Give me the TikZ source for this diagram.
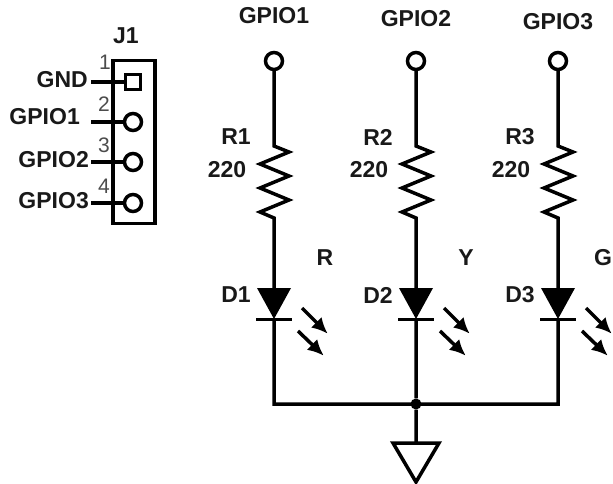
\documentclass[tikz,border=0pt]{standalone}
\usepackage{fontspec}
\setmainfont{Liberation Sans}
\usetikzlibrary{positioning,arrows.meta}
\tikzset{pad node/.style={circle,draw,line width=3.5pt,fill=white,minimum size=17pt,inner sep=0pt},
	square node/.style={rectangle,draw,line width=3.5pt,fill=white,minimum size=15pt,inner sep=0pt},
	name node/.style={inner sep=0pt,text=black!90,font=\fontsize{23}{23}\selectfont\bfseries},
	num node/.style={inner sep=0pt,text=black!70,font=\fontsize{21}{21}\selectfont},
	wire/.style={line width=3.5pt,line join=miter},
	ray/.style={line width=3.5pt,-{Latex[length=16pt,width=15pt]},shorten >=-1pt},
	resistor/.style={to path={-- ++(15,-6) -- ++(-29,-12) -- ++(29,-12) -- ++(-29,-12) -- ++(29,-12) -- ++(-29,-12) -- ++(14,-6) -- (\tikztotarget)}},
	diode/.style={to path={(\tikztostart) ++(-17,0) -- ++(34,0) -- (\tikztotarget) -- cycle}},
}

\begin{document}
\begin{tikzpicture}[x=1pt,y=1pt,on grid]
	\useasboundingbox (0,0) rectangle (613,-484);
	% connector
	\node[draw,line width=3.5pt,minimum width=42pt,minimum height=163pt,inner sep=0pt] (J) at (134,-142) {};
	\coordinate (L1) at (91,-82);
	\coordinate (L2) at (91,-122);
	\coordinate (L3) at (91,-162);
	\coordinate (L4) at (91,-203);
	\path[draw,wire]
	(L1) -- (133,-82)
	(L2) -- (133,-122)
	(L3) -- (133,-162)
	(L4) -- (133,-203);
	\node[square node] (P1) at (133,-82) {};
	\node[pad node] (P2) [below =40pt of P1] {};
	\node[pad node] (P3) [below =40pt of P2] {};
	\node[pad node] (P4) [below =41pt of P3] {};
	\node[name node] (J1) at (126,-36) {J1};
	\node[name node,anchor=east] (N1) [left =3pt of L1,yshift=2pt] {GND};
	\node[name node,anchor=east] (N2) [left =11pt of L2,yshift=5pt] {GPIO1};
	\node[name node,anchor=east] (N3) [left =2pt of L3,yshift=2pt] {GPIO2};
	\node[name node,anchor=east] (N4) [left =2pt of L4,yshift=2pt] {GPIO3};
	\node[num node] (T1) at (105,-62) {1};
	\node[num node] (T2) at (104,-104) {2};
	\node[num node] (T3) at (104,-145) {3};
	\node[num node] (T4) at (104,-186) {4};
	
	% top pads
	\node[pad node] (A1) at (274,-61) {};
	\node[pad node] (A2) [right =142pt of A1] {};
	\node[pad node] (A3) [right =142pt of A2] {};
	\node[name node] (G1) [above =45pt of A1] {GPIO1};
	\node[name node] (G2) [above =42pt of A2] {GPIO2};
	\node[name node] (G3) [above =39pt of A3] {GPIO3};
	
	% resistors and leds
	\coordinate (R1a) at (274,-146);
	\coordinate (R2a) at (416,-146);
	\coordinate (R3a) at (558,-146);
	\coordinate[below =72pt of R1a] (R1b);
	\coordinate[below =72pt of R2a] (R2b);
	\coordinate[below =72pt of R3a] (R3b);
	\coordinate[below =142pt of R1a] (D1a);
	\coordinate[below =142pt of R2a] (D2a);
	\coordinate[below =142pt of R3a] (D3a);
	\coordinate[below =31pt of D1a] (D1b);
	\coordinate[below =31pt of D2a] (D2b);
	\coordinate[below =31pt of D3a] (D3b);
	\coordinate (B1) at (274,-404);
	\node[circle,fill,minimum size=11pt,inner sep=0pt] (B2) at (416,-404) {};
	\coordinate (B3) at (558,-404);
	\coordinate[below =39pt of B2] (E);
	
	\path[draw,wire]
	(A1) -- (R1a) to[resistor] (R1b) -- (D1a)
	(A2) -- (R2a) to[resistor] (R2b) -- (D2a)
	(A3) -- (R3a) to[resistor] (R3b) -- (D3a)
	(D1b) -- (B1) -- (B3) -- (D3b)
	(D2b) -- (B2) -- (E);
	\fill (D1a) to[diode] (D1b);
	\fill (D2a) to[diode] (D2b);
	\fill (D3a) to[diode] (D3b);
	\path[draw,line width=3pt] (D1b) ++(-18,0) -- ++(36,0) (D2b) ++(-18,0) -- ++(36,0) (D3b) ++(-18,0) -- ++(36,0);
	\path[draw,wire,miter limit=4] (E) ++(-23,0) -- ++(46,0) -- ++(-23,-39) -- cycle;
	
	\draw[ray] ([shift={(28,11)}]D1b) -- ([shift={(53,-14)}]D1b);
	\draw[ray] ([shift={(24,-12)}]D1b) -- ([shift={(49,-36)}]D1b);
	\draw[ray] ([shift={(28,11)}]D2b) -- ([shift={(53,-14)}]D2b);
	\draw[ray] ([shift={(24,-12)}]D2b) -- ([shift={(49,-36)}]D2b);
	\draw[ray] ([shift={(28,11)}]D3b) -- ([shift={(53,-14)}]D3b);
	\draw[ray] ([shift={(24,-12)}]D3b) -- ([shift={(49,-36)}]D3b);
	
	% labels
	\node[name node] (R1) at (236,-137) {R1};
	\node[name node] (V1) at (227,-170) {220};
	\node[name node] (R2) [right =142pt of R1] {R2};
	\node[name node] (V2) [right =142pt of V1] {220};
	\node[name node] (R3) [right =142pt of R2] {R3};
	\node[name node] (V3) [right =142pt of V2] {220};
	\node[name node] (D1) at (236,-295) {D1};
	\node[name node] (D2) [right =142pt of D1] {D2};
	\node[name node] (D3) [right =142pt of D2] {D3};
	\node[name node] (C1) at (325,-258) {R};
	\node[name node] (C2) [right =141pt of C1] {Y};
	\node[name node] (C3) [right =278pt of C1] {G};
\end{tikzpicture}
\end{document}
